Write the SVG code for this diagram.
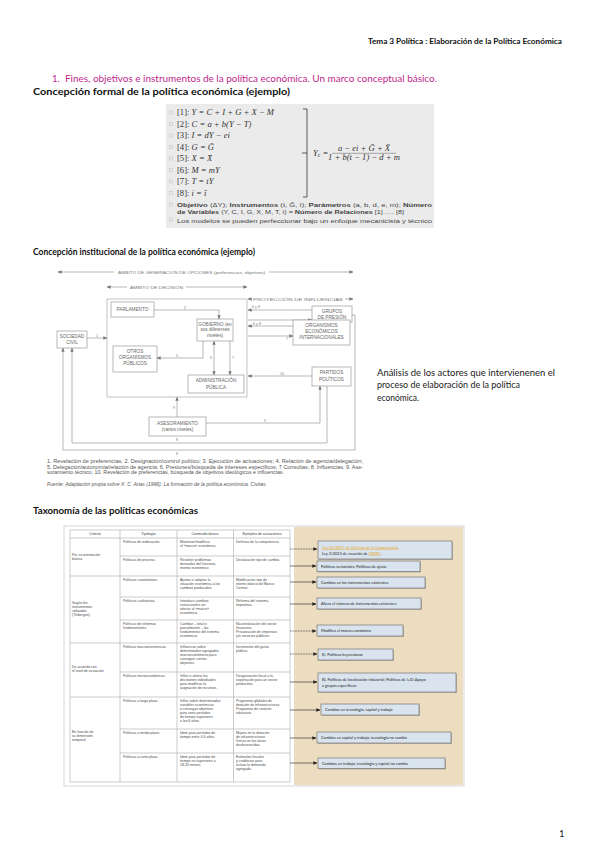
<svg xmlns="http://www.w3.org/2000/svg" width="599" height="848" viewBox="0 0 599 848">
<defs>
<style>
.doc{font-family:Lato,"Liberation Sans",sans-serif;fill:#1a1a1a}
.hd{font-family:Lato,"Liberation Sans",sans-serif;font-weight:bold;fill:#111}
.pink{font-family:Lato,"Liberation Sans",sans-serif;fill:#c0288c}
.eq{font-family:"Liberation Serif",serif;font-style:italic;fill:#333;font-size:8.6px}
.eqn{font-style:normal}
.sm{font-family:"Liberation Sans",sans-serif;fill:#444;font-size:5.6px}
.box{fill:#fff;stroke:#999;stroke-width:0.7}
.bl{font-family:"Liberation Sans",sans-serif;fill:#666;font-size:4.7px;text-anchor:middle}
.lab{font-family:"Liberation Sans",sans-serif;fill:#777;font-size:3.6px;text-anchor:middle}
.cn{fill:none;stroke:#888;stroke-width:0.6}
.cap{font-family:"Liberation Sans",sans-serif;fill:#555;font-size:4.5px}
.tb{font-family:"Liberation Sans",sans-serif;fill:#4a4a4a;font-size:3.5px}
.th{font-family:"Liberation Sans",sans-serif;fill:#3a3a3a;font-size:3.5px;text-anchor:middle}
.grid{fill:none;stroke:#aaa;stroke-width:0.6}
.rb{fill:#d9e4ef;stroke:#777;stroke-width:0.7}
.sh{fill:#b9b0a0}
.rt{font-family:Lato,"Liberation Sans",sans-serif;fill:#222;font-size:3.9px}
.ar{fill:none;stroke:#222;stroke-width:0.6}
.ard{fill:none;stroke:#222;stroke-width:0.6;stroke-dasharray:1 0.6}
.ck{fill:none;stroke:#bbb;stroke-width:0.5}
</style>
<marker id="ag" viewBox="0 0 6 6" refX="5.5" refY="3" markerWidth="4" markerHeight="4" orient="auto-start-reverse" markerUnits="userSpaceOnUse"><path d="M0,0.5 L6,3 L0,5.5 z" fill="#777"/></marker>
<marker id="ab" viewBox="0 0 6 6" refX="5.5" refY="3" markerWidth="4" markerHeight="4" orient="auto" markerUnits="userSpaceOnUse"><path d="M0,0.5 L6,3 L0,5.5 z" fill="#222"/></marker>
</defs>
<rect width="599" height="848" fill="#fff"/>

<!-- page header -->
<text class="hd" x="562" y="44" font-size="7" text-anchor="end" textLength="194" lengthAdjust="spacingAndGlyphs">Tema 3 Política : Elaboración de la Política Económica</text>
<text class="pink" x="52" y="82" font-size="9.5">1.</text>
<text class="pink" x="65" y="82" font-size="9.5" textLength="372" lengthAdjust="spacingAndGlyphs">Fines, objetivos e instrumentos de la política económica. Un marco conceptual básico.</text>
<text class="hd" x="33" y="95" font-size="9" textLength="257" lengthAdjust="spacingAndGlyphs">Concepción formal de la política económica (ejemplo)</text>

<!-- formal model image -->
<g id="formal">
<rect x="166" y="104" width="268" height="124" fill="#ebebeb"/>
<g class="ck">
<rect x="169.5" y="111" width="3" height="3"/><rect x="169.5" y="122.5" width="3" height="3"/><rect x="169.5" y="134" width="3" height="3"/><rect x="169.5" y="145.5" width="3" height="3"/><rect x="169.5" y="157" width="3" height="3"/><rect x="169.5" y="168.5" width="3" height="3"/><rect x="169.5" y="180" width="3" height="3"/><rect x="169.5" y="191.5" width="3" height="3"/><rect x="169.5" y="203" width="3" height="3"/><rect x="169.5" y="218" width="3" height="3"/>
</g>
<text class="eq" x="177" y="115"><tspan class="eqn">[1]: </tspan>Y = C + I + G + X − M</text>
<text class="eq" x="177" y="126.5"><tspan class="eqn">[2]: </tspan>C = a + b(Y − T)</text>
<text class="eq" x="177" y="138"><tspan class="eqn">[3]: </tspan>I = dY − ei</text>
<text class="eq" x="177" y="149.5"><tspan class="eqn">[4]: </tspan>G = Ḡ</text>
<text class="eq" x="177" y="161"><tspan class="eqn">[5]: </tspan>X = X̄</text>
<text class="eq" x="177" y="172.5"><tspan class="eqn">[6]: </tspan>M = mY</text>
<text class="eq" x="177" y="184"><tspan class="eqn">[7]: </tspan>T = tY</text>
<text class="eq" x="177" y="195.5"><tspan class="eqn">[8]: </tspan>i = ī</text>
<path d="M303,109 H307 V197 H303 M307,153 H302" fill="none" stroke="#333" stroke-width="0.8"/>
<text class="eq" x="313" y="155.5" font-size="6px">Y<tspan font-size="4px" dy="1.3">E</tspan><tspan dy="-1.3"> =</tspan></text>
<text class="eq" x="364" y="150.5" font-size="5.2px" text-anchor="middle">a − ei + Ḡ + X̄</text>
<line x1="332" y1="153.3" x2="396" y2="153.3" stroke="#333" stroke-width="0.4"/>
<text class="eq" x="364" y="159.8" font-size="5.2px" text-anchor="middle">1 + b(t − 1) − d + m</text>
<text class="sm" x="177" y="207" textLength="255" lengthAdjust="spacingAndGlyphs"><tspan font-weight="bold">Objetivo</tspan> (ΔY); <tspan font-weight="bold">Instrumentos</tspan> (t, Ḡ, ī); <tspan font-weight="bold">Parámetros</tspan> (a, b, d, e, m); <tspan font-weight="bold">Número</tspan></text>
<text class="sm" x="177" y="213.5" textLength="227" lengthAdjust="spacingAndGlyphs"><tspan font-weight="bold">de Variables</tspan> (Y, C, I, G, X, M, T, i) = <tspan font-weight="bold">Número de Relaciones</tspan> [1] …. [8]</text>
<text class="sm" x="177" y="222.5" textLength="255" lengthAdjust="spacingAndGlyphs">Los modelos se pueden perfeccionar bajo un enfoque mecanicista y técnico</text>
</g>

<text class="hd" x="33" y="255" font-size="9" textLength="222" lengthAdjust="spacingAndGlyphs">Concepción institucional de la política económica (ejemplo)</text>

<!-- institutional diagram -->
<g id="connectors">
<line class="cn" x1="58" y1="272" x2="114" y2="272" marker-start="url(#ag)"/>
<line class="cn" x1="269" y1="272" x2="353" y2="272" marker-end="url(#ag)"/>
<line class="cn" x1="107" y1="287" x2="127" y2="287" marker-start="url(#ag)"/>
<line class="cn" x1="186" y1="287" x2="247" y2="287" marker-end="url(#ag)"/>
<path class="cn" d="M251,299 H248" marker-end="url(#ag)"/>
<line class="cn" x1="345" y1="299" x2="353" y2="299" marker-end="url(#ag)"/>
<line class="cn" x1="87" y1="338" x2="107" y2="338" marker-end="url(#ag)"/>
<path class="cn" d="M154,310 H219 V319" marker-end="url(#ag)"/>
<line class="cn" x1="312" y1="310" x2="248" y2="310" marker-end="url(#ag)"/>
<line class="cn" x1="248" y1="320" x2="312" y2="320" marker-end="url(#ag)"/>
<line class="cn" x1="293" y1="326" x2="248" y2="326" marker-end="url(#ag)"/>
<line class="cn" x1="248" y1="336" x2="293" y2="336" marker-end="url(#ag)"/>
<path class="cn" d="M203,341 V358 H157" marker-end="url(#ag)"/>
<line class="cn" x1="214" y1="341" x2="214" y2="375" marker-start="url(#ag)" marker-end="url(#ag)"/>
<line class="cn" x1="230" y1="341" x2="230" y2="375" marker-end="url(#ag)"/>
<line class="cn" x1="312" y1="376" x2="248" y2="376" marker-end="url(#ag)"/>
<line class="cn" x1="177" y1="417" x2="177" y2="397" marker-end="url(#ag)"/>
<path class="cn" d="M206,423 H320 V386" marker-end="url(#ag)"/>
<path class="cn" d="M327,386 V443 H72 V348" marker-end="url(#ag)"/>
<path class="cn" d="M352,315 H355 V450 H63 V348" marker-end="url(#ag)"/>
</g>
<g id="diagram-labels">
<text class="lab" x="191.5" y="273.6" font-size="4.8px" textLength="147" lengthAdjust="spacingAndGlyphs">ÁMBITO DE GENERACIÓN DE OPCIONES (preferencias, objetivos)</text>
<text class="lab" x="156.5" y="288.6" font-size="4.8px" textLength="53" lengthAdjust="spacingAndGlyphs">ÁMBITO DE DECISIÓN</text>
<text class="lab" x="298" y="300.6" font-size="4.8px" textLength="90" lengthAdjust="spacingAndGlyphs">PROYECCIÓN DE INFLUENCIAS</text>
<text class="lab" x="97" y="336.5">1</text>
<text class="lab" x="185" y="308.5">2</text>
<text class="lab" x="256" y="308">6 y 8</text>
<text class="lab" x="306" y="324">7</text>
<text class="lab" x="257" y="324.5">6 y 8</text>
<text class="lab" x="287" y="340">7</text>
<text class="lab" x="177" y="357">5</text>
<text class="lab" x="211" y="359">6</text>
<text class="lab" x="233" y="359">7</text>
<text class="lab" x="282" y="374.5">10</text>
<text class="lab" x="174" y="409">9</text>
<text class="lab" x="265" y="421.5">9</text>
<text class="lab" x="177" y="441">8</text>
<text class="lab" x="177" y="455">8</text>
</g>
<rect x="107" y="299" width="140" height="98" fill="none" stroke="#aaa" stroke-width="0.7"/>
<g id="parlamento"><rect class="box" x="111" y="302" width="43" height="15"/><text class="bl" x="132.5" y="311.3">PARLAMENTO</text></g>
<g id="gobierno"><rect class="box" x="197" y="319" width="36" height="22"/><text class="bl" x="215" y="325.5" font-size="4.1px">GOBIERNO (en</text><text class="bl" x="215" y="331.2" font-size="4.1px">sus diferentes</text><text class="bl" x="215" y="336.9" font-size="4.1px">niveles)</text></g>
<g id="grupos"><rect class="box" x="312" y="306" width="40" height="16"/><text class="bl" x="332" y="312.6">GRUPOS</text><text class="bl" x="332" y="318.6">DE PRESIÓN</text></g>
<g id="organismos"><rect class="box" x="293" y="320" width="57" height="25"/><text class="bl" x="321.5" y="327.3">ORGANISMOS</text><text class="bl" x="321.5" y="333.3">ECONÓMICOS</text><text class="bl" x="321.5" y="339.3">INTERNACIONALES</text></g>
<g id="sociedad"><rect class="box" x="57" y="331" width="30" height="17"/><text class="bl" x="72" y="338">SOCIEDAD</text><text class="bl" x="72" y="344">CIVIL</text></g>
<g id="otros"><rect class="box" x="113" y="346" width="44" height="26"/><text class="bl" x="135" y="353">OTROS</text><text class="bl" x="135" y="359">ORGANISMOS</text><text class="bl" x="135" y="365">PÚBLICOS</text></g>
<g id="administracion"><rect class="box" x="188" y="375" width="56" height="18"/><text class="bl" x="216" y="382.3">ADMINISTRACIÓN</text><text class="bl" x="216" y="388.5">PÚBLICA</text></g>
<g id="partidos"><rect class="box" x="312" y="367" width="39" height="19"/><text class="bl" x="331.5" y="374.3">PARTIDOS</text><text class="bl" x="331.5" y="380.5">POLÍTICOS</text></g>
<g id="asesoramiento"><rect class="box" x="149" y="417" width="57" height="19"/><text class="bl" x="177.5" y="424.5" font-size="5.2px">ASESORAMIENTO</text><text class="bl" x="177.5" y="431.2" font-size="4.4px">(varios niveles)</text></g>

<text class="cap" x="47" y="463" textLength="316" lengthAdjust="spacingAndGlyphs">1. Revelación de preferencias; 2. Designación/control político; 3. Ejecución de actuaciones; 4. Relación de agencia/delegación;</text>
<text class="cap" x="47" y="468.5" textLength="316" lengthAdjust="spacingAndGlyphs">5. Delegación/autonomía/relación de agencia; 6. Presiones/búsqueda de intereses específicos; 7 Consultas; 8. Influencias; 9. Ase-</text>
<text class="cap" x="47" y="474" textLength="237" lengthAdjust="spacingAndGlyphs">soramiento técnico; 10. Revelación de preferencias, búsqueda de objetivos ideológicos e influencias.</text>
<text class="cap" x="47" y="486" textLength="220" lengthAdjust="spacingAndGlyphs" font-style="italic">Fuente: Adaptación propia sobre X. C. Arias (1996): La formación de la política económica. Civitas.</text>

<text class="doc" x="377" y="375.5" font-size="8.5" textLength="178" lengthAdjust="spacingAndGlyphs">Análisis de los actores que intervienenen el</text>
<text class="doc" x="377" y="388" font-size="8.5" textLength="143" lengthAdjust="spacingAndGlyphs">proceso de elaboración de la política</text>
<text class="doc" x="377" y="400.5" font-size="8.5" textLength="42" lengthAdjust="spacingAndGlyphs">económica.</text>

<text class="hd" x="33" y="514" font-size="9" textLength="165" lengthAdjust="spacingAndGlyphs">Taxonomía de las políticas económicas</text>

<!-- taxonomy image -->
<g id="taxonomy">
<rect x="64" y="526" width="400" height="260" fill="#fff" stroke="#e4e4e4" stroke-width="1.5"/>
<rect x="294" y="527" width="169" height="258" fill="#ecdcc0"/>
<g class="grid">
<rect x="70" y="530" width="220" height="252"/>
<line x1="120" y1="530" x2="120" y2="782"/><line x1="177" y1="530" x2="177" y2="782"/><line x1="233.5" y1="530" x2="233.5" y2="782"/>
<line x1="70" y1="538" x2="290" y2="538"/>
<line x1="120" y1="556" x2="290" y2="556"/>
<line x1="70" y1="576" x2="290" y2="576"/>
<line x1="120" y1="597" x2="290" y2="597"/>
<line x1="120" y1="620" x2="290" y2="620"/>
<line x1="70" y1="643" x2="290" y2="643"/>
<line x1="120" y1="672" x2="290" y2="672"/>
<line x1="70" y1="697" x2="290" y2="697"/>
<line x1="120" y1="729" x2="290" y2="729"/>
<line x1="120" y1="753" x2="290" y2="753"/>
</g>
<text class="th" x="95" y="535.3">Criterio</text><text class="th" x="148.5" y="535.3">Tipología</text><text class="th" x="205" y="535.3">Contenido básico</text><text class="th" x="262" y="535.3">Ejemplos de actuaciones</text>
<text class="tb"><tspan x="72" y="555.5">Por su orientación</tspan><tspan x="72" dy="4">básica</tspan></text>
<text class="tb"><tspan x="72" y="604">Según los</tspan><tspan x="72" dy="4">instrumentos</tspan><tspan x="72" dy="4">utilizados</tspan><tspan x="72" dy="4">(Tinbergen)</tspan></text>
<text class="tb"><tspan x="72" y="668">De acuerdo con</tspan><tspan x="72" dy="4">el nivel de actuación</tspan></text>
<text class="tb"><tspan x="72" y="733">En función de</tspan><tspan x="72" dy="4">su dimensión</tspan><tspan x="72" dy="4">temporal</tspan></text>

<text class="tb"><tspan x="123" y="543">Políticas de ordenación.</tspan><tspan x="123" y="561">Políticas de proceso.</tspan><tspan x="123" y="581">Políticas cuantitativas.</tspan><tspan x="123" y="602">Políticas cualitativas.</tspan><tspan x="123" y="625">Políticas de reformas</tspan><tspan x="123" dy="4">fundamentales.</tspan><tspan x="123" y="648">Políticas macroeconómicas.</tspan><tspan x="123" y="677">Políticas microeconómicas.</tspan><tspan x="123" y="702">Políticas a largo plazo.</tspan><tspan x="123" y="734">Políticas a medio plazo.</tspan><tspan x="123" y="758">Políticas a corto plazo.</tspan></text>

<text class="tb"><tspan x="180" y="543">Mantener/modificar</tspan><tspan x="180" dy="4">el «marco» económico.</tspan>
<tspan x="180" y="561">Resolver problemas</tspan><tspan x="180" dy="4">derivados del funciona-</tspan><tspan x="180" dy="4">miento económico.</tspan>
<tspan x="180" y="581">Ajustar o adaptar la</tspan><tspan x="180" dy="4">situación económica a los</tspan><tspan x="180" dy="4">cambios producidos.</tspan>
<tspan x="180" y="602">Introducir cambios</tspan><tspan x="180" dy="4">estructurales sin</tspan><tspan x="180" dy="4">afectar al «marco»</tspan><tspan x="180" dy="4">económico.</tspan>
<tspan x="180" y="625">Cambiar – total o</tspan><tspan x="180" dy="4">parcialmente – los</tspan><tspan x="180" dy="4">fundamentos del sistema</tspan><tspan x="180" dy="4">económico.</tspan>
<tspan x="180" y="648">Influenciar sobre</tspan><tspan x="180" dy="4">determinados agregados</tspan><tspan x="180" dy="4">macroeconómicos para</tspan><tspan x="180" dy="4">conseguir ciertos</tspan><tspan x="180" dy="4">objetivos.</tspan>
<tspan x="180" y="677">Influir o alterar las</tspan><tspan x="180" dy="4">decisiones individuales</tspan><tspan x="180" dy="4">para modificar la</tspan><tspan x="180" dy="4">asignación de recursos.</tspan>
<tspan x="180" y="702">Influir sobre determinadas</tspan><tspan x="180" dy="4">variables económicas</tspan><tspan x="180" dy="4">o conseguir objetivos</tspan><tspan x="180" dy="4">para unos períodos</tspan><tspan x="180" dy="4">de tiempo superiores</tspan><tspan x="180" dy="4">a los 6 años.</tspan>
<tspan x="180" y="734">Idem para períodos de</tspan><tspan x="180" dy="4">tiempo entre 4-6 años.</tspan>
<tspan x="180" y="758">Idem para períodos de</tspan><tspan x="180" dy="4">tiempo no superiores a</tspan><tspan x="180" dy="4">18-24 meses.</tspan></text>

<text class="tb"><tspan x="236" y="543">Defensa de la competencia.</tspan>
<tspan x="236" y="561">Devaluación tipo de cambio.</tspan>
<tspan x="236" y="581">Modificación tipo de</tspan><tspan x="236" dy="4">interés básico del Banco</tspan><tspan x="236" dy="4">Central.</tspan>
<tspan x="236" y="602">Reforma del sistema</tspan><tspan x="236" dy="4">impositivo.</tspan>
<tspan x="236" y="625">Nacionalización del sector</tspan><tspan x="236" dy="4">financiero.</tspan><tspan x="236" dy="4">Privatización de empresas</tspan><tspan x="236" dy="4">y/o servicios públicos.</tspan>
<tspan x="236" y="648">Incremento del gasto</tspan><tspan x="236" dy="4">público.</tspan>
<tspan x="236" y="677">Desgravación fiscal a la</tspan><tspan x="236" dy="4">exportación para un sector</tspan><tspan x="236" dy="4">productivo.</tspan>
<tspan x="236" y="702">Programas globales de</tspan><tspan x="236" dy="4">dotación de infraestructuras.</tspan><tspan x="236" dy="4">Programas de carácter</tspan><tspan x="236" dy="4">educativo.</tspan>
<tspan x="236" y="734">Mejora en la dotación</tspan><tspan x="236" dy="4">de infraestructuras</tspan><tspan x="236" dy="4">físicas en las áreas</tspan><tspan x="236" dy="4">desfavorecidas.</tspan>
<tspan x="236" y="758">Estímulos fiscales</tspan><tspan x="236" dy="4">y crediticios para</tspan><tspan x="236" dy="4">activar la demanda</tspan><tspan x="236" dy="4">agregada.</tspan></text>

<g id="tax-arrows">
<line class="ard" x1="290" y1="549" x2="317" y2="549" marker-end="url(#ab)"/>
<line class="ar" x1="290" y1="566" x2="316" y2="566" marker-end="url(#ab)"/>
<line class="ar" x1="290" y1="582" x2="316" y2="582" marker-end="url(#ab)"/>
<line class="ar" x1="290" y1="604" x2="316" y2="604" marker-end="url(#ab)"/>
<line class="ard" x1="290" y1="631" x2="316" y2="631" marker-end="url(#ab)"/>
<line class="ard" x1="290" y1="654" x2="317" y2="654" marker-end="url(#ab)"/>
<line class="ar" x1="290" y1="682" x2="317" y2="682" marker-end="url(#ab)"/>
<line class="ar" x1="290" y1="710" x2="320" y2="710" marker-end="url(#ab)"/>
<line class="ar" x1="290" y1="738" x2="316" y2="738" marker-end="url(#ab)"/>
<line class="ar" x1="290" y1="763" x2="317" y2="763" marker-end="url(#ab)"/>
</g>
<g id="b1"><rect class="sh" x="319" y="542" width="134" height="18"/><rect class="rb" x="318" y="541" width="134" height="18"/><text class="rt" x="322" y="548.5"><tspan fill="#e8a317" text-decoration="underline">Ley 15/2007, de Defensa de la Competencia</tspan>.</text><text class="rt" x="322" y="554.5">Ley 3/2013 de creación de <tspan fill="#e8a317" text-decoration="underline">CNMC</tspan>.</text></g>
<g id="b2"><rect class="sh" x="318" y="562" width="103" height="10.5"/><rect class="rb" x="317" y="561" width="103" height="10.5"/><text class="rt" x="321" y="567.6">Políticas sectoriales; Políticas de ajuste</text></g>
<g id="b3"><rect class="sh" x="318" y="578" width="108" height="11"/><rect class="rb" x="317" y="577" width="108" height="11"/><text class="rt" x="321" y="583.8">Cambios en los instrumentos existentes</text></g>
<g id="b4"><rect class="sh" x="318" y="599" width="104" height="11"/><rect class="rb" x="317" y="598" width="104" height="11"/><text class="rt" x="321" y="604.8">Altera el número de instrumentos existentes</text></g>
<g id="b5"><rect class="sh" x="318" y="626" width="86" height="11"/><rect class="rb" x="317" y="625" width="86" height="11"/><text class="rt" x="321" y="631.8">Modifica el marco económico</text></g>
<g id="b6"><rect class="sh" x="319" y="650" width="75" height="11"/><rect class="rb" x="318" y="649" width="75" height="11"/><text class="rt" x="322" y="655.8">E). Políticas keynesianas</text></g>
<g id="b7"><rect class="sh" x="319" y="674" width="138" height="19"/><rect class="rb" x="318" y="673" width="138" height="19"/><text class="rt" x="322" y="680.5">B). Políticas de localización industrial; Políticas de I+D; Apoyo</text><text class="rt" x="322" y="686.5">a grupos específicos</text></g>
<g id="b8"><rect class="sh" x="322" y="705" width="98" height="11"/><rect class="rb" x="321" y="704" width="98" height="11"/><text class="rt" x="325" y="710.8">Cambios en tecnología, capital y trabajo</text></g>
<g id="b9"><rect class="sh" x="318" y="733" width="134" height="11"/><rect class="rb" x="317" y="732" width="134" height="11"/><text class="rt" x="321" y="738.8">Cambios en capital y trabajo; tecnología no cambia</text></g>
<g id="b10"><rect class="sh" x="319" y="759" width="127" height="10.5"/><rect class="rb" x="318" y="758" width="127" height="10.5"/><text class="rt" x="322" y="764.6">Cambios en trabajo, tecnología y capital no cambia</text></g>
</g>

<text class="doc" x="559" y="837" font-size="9.5">1</text>
</svg>
